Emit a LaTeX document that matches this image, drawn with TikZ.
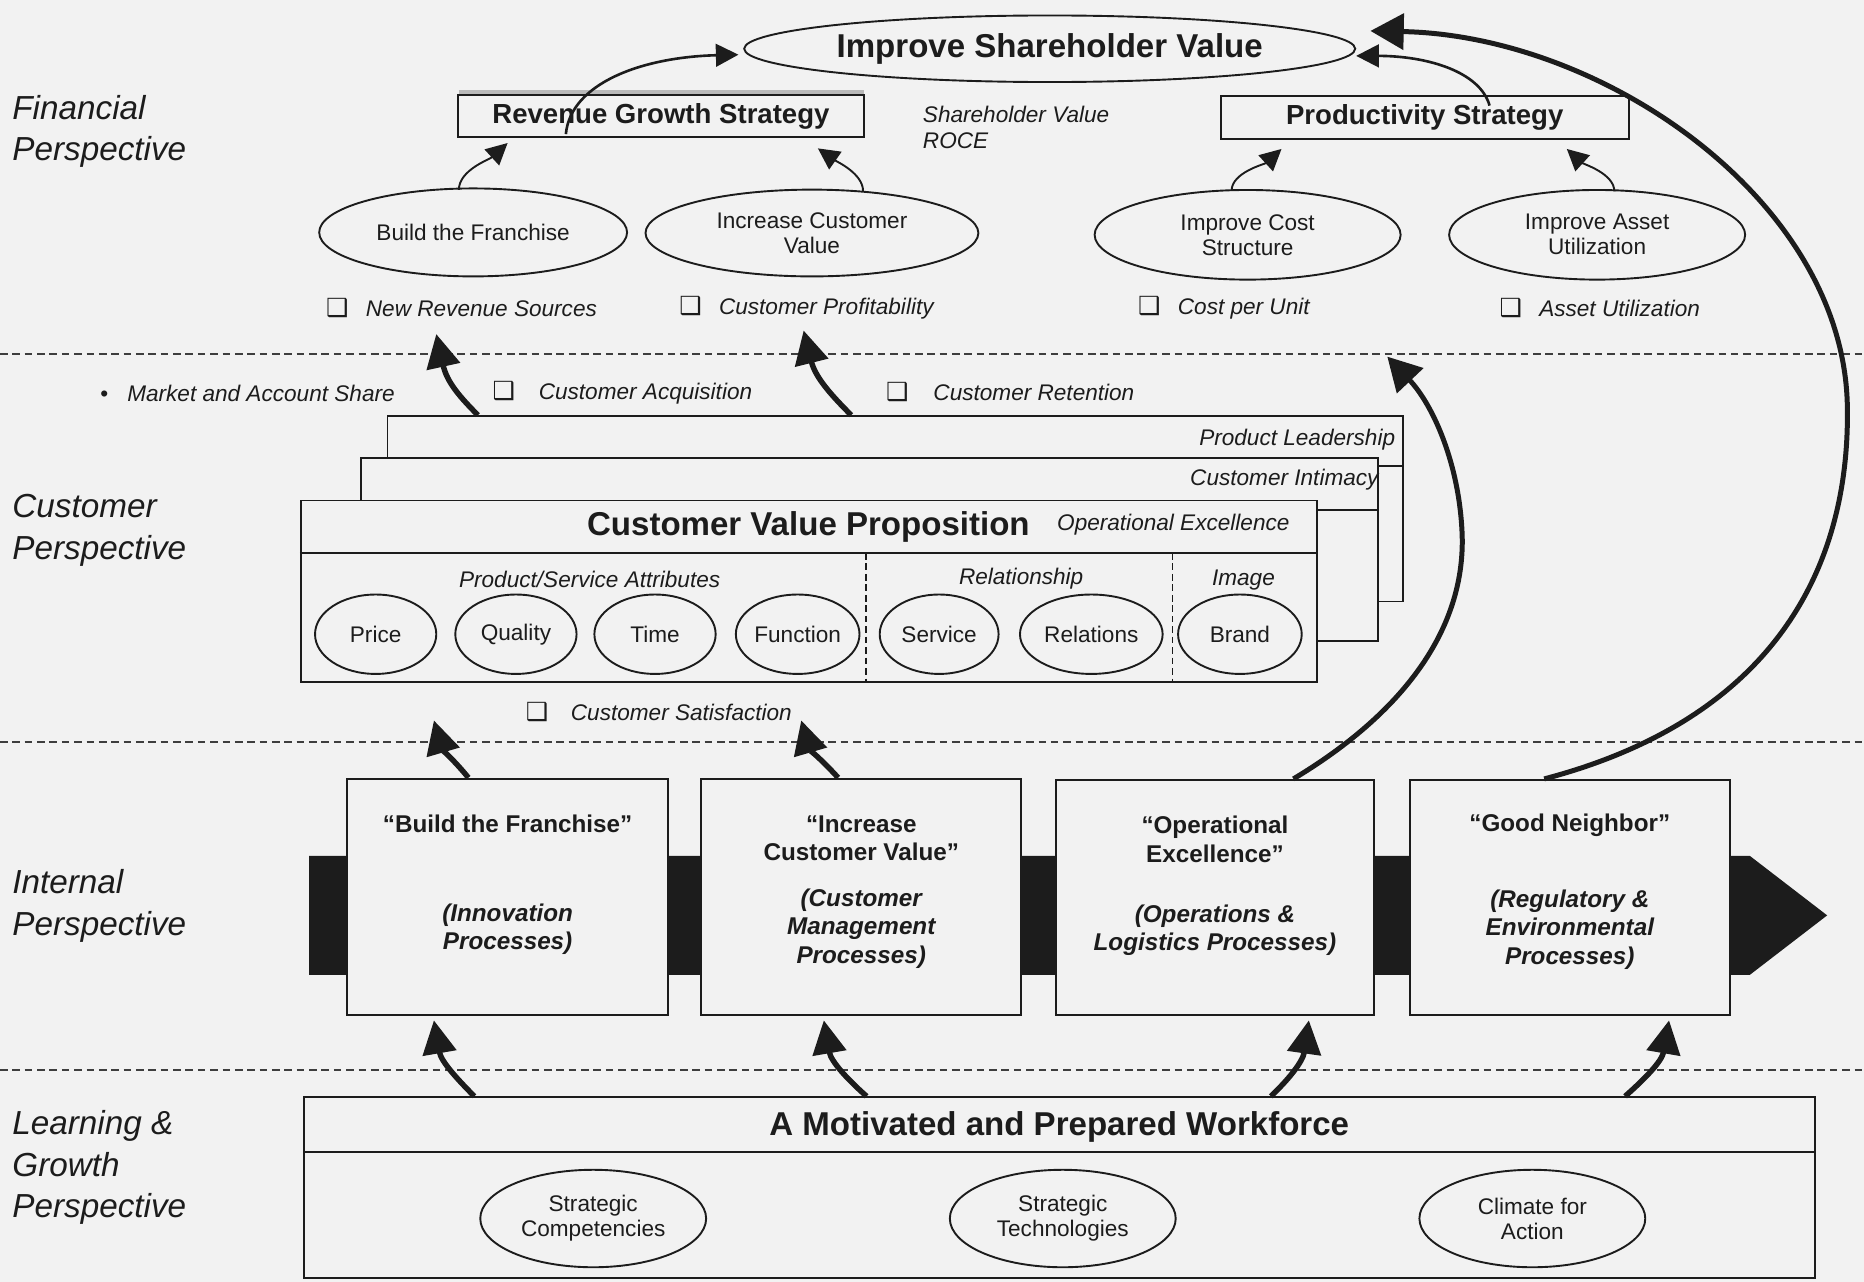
\documentclass[tikz,border=0pt]{standalone}
\usepackage{fontspec}
\setmainfont{Liberation Sans}
\newfontfamily\dvfont{DejaVu Sans}
\usetikzlibrary{arrows.meta,calc,shapes.geometric}
\definecolor{bgc}{HTML}{F2F2F2}
\definecolor{ink}{HTML}{1C1C1C}
\newcommand{\chk}{{\upshape\dvfont\fontsize{10.5}{10}\selectfont ❑}}
\begin{document}
\begin{tikzpicture}[x=0.5pt,y=-0.5pt,
  every node/.style={text=ink},
  ell/.style={ellipse,draw=ink,line width=0.8pt,fill=bgc,inner sep=0pt,align=center,font=\fontsize{9.5}{10.5}\selectfont},
  box/.style={rectangle,draw=ink,line width=0.8pt,fill=bgc,inner sep=0pt},
  persp/.style={anchor=west,align=left,inner sep=0pt,font=\fontsize{14}{17.6}\selectfont\itshape},
  meas/.style={anchor=west,inner sep=0pt,font=\fontsize{9.5}{11}\selectfont\itshape},
  lbl/.style={inner sep=0pt,font=\fontsize{9.5}{11}\selectfont\itshape},
  ttl/.style={inner sep=0pt,align=center,font=\fontsize{10.2}{12}\selectfont\bfseries},
  sub/.style={inner sep=0pt,align=center,font=\fontsize{10.2}{12}\selectfont\bfseries\itshape},
  bigt/.style={inner sep=0pt,font=\fontsize{13.9}{16}\selectfont\bfseries},
  boxt/.style={font=\fontsize{11.6}{13}\selectfont\bfseries},
  sepline/.style={draw=ink!85,line width=0.8pt,dash pattern=on 3.2pt off 2pt},
  vsep/.style={draw=ink,line width=0.7pt,dash pattern=on 2.8pt off 1.6pt},
  farr/.style={draw=ink,line width=0.8pt,-{Triangle[length=9pt,width=9pt]}},
  marr/.style={draw=ink,line width=1.1pt,-{Triangle[length=9.5pt,width=9.5pt]}},
  tarr/.style={draw=ink,line width=2.3pt,-{Triangle[length=14pt,width=14pt]}},
  barr/.style={draw=ink,line width=2.1pt,-{Triangle[length=14pt,width=15pt]}}
]
\useasboundingbox (0,0) rectangle (1568,1078);
\fill[bgc] (0,0) rectangle (1568,1078);

% perspective separators
\draw[sepline] (0,298) -- (1568,298);
\draw[sepline] (0,624) -- (1568,624);
\draw[sepline] (0,900) -- (1568,900);

% perspective labels
\node[persp] (lf) at (10,110.5) {Financial\\Perspective};
\node[persp] (lc) at (10,446) {Customer\\Perspective};
\node[persp] (li) at (10,762) {Internal\\Perspective};
\node[persp] (ll) at (10,982) {Learning \&\\Growth\\Perspective};

% ---------------- Financial ----------------
\node[ell,minimum width=257pt,minimum height=28pt,font=\fontsize{13.9}{16}\selectfont\bfseries] (isv) at (883,41) {Improve Shareholder Value};
\draw[gray!55,line width=2pt] (386,78) -- (727,78);
\node[box,boxt,minimum width=170.5pt,minimum height=17.75pt] (rgs) at (556,97.75) {Revenue Growth Strategy};
\node[box,boxt,minimum width=171.5pt,minimum height=18pt] (ps) at (1198.5,98.8) {Productivity Strategy};
\node[lbl,anchor=west,align=left] (sv) at (776,107) {Shareholder Value\\ROCE};
\node[ell,minimum width=129.5pt,minimum height=37pt] (bf) at (398,195.5) {Build the Franchise};
\node[ell,minimum width=140pt,minimum height=36.5pt] (icv) at (683,196) {Increase Customer\\Value};
\node[ell,minimum width=128.7pt,minimum height=37.7pt] (ics) at (1049.5,197.5) {Improve Cost\\Structure};
\node[ell,minimum width=124.5pt,minimum height=37.7pt] (iau) at (1343.5,197.5) {Improve Asset\\Utilization};

\node[meas] (m1) at (274,259) {\chk\hspace{7.3pt}New Revenue Sources};
\node[meas] (m2) at (571,259) {\chk\hspace{7.3pt}Customer Profitability};
\node[meas] (m3) at (957,259) {\chk\hspace{7.3pt}Cost per Unit};
\node[meas] (m4) at (1261,259) {\chk\hspace{7.3pt}Asset Utilization};

% financial arrows
\draw[farr] ($(bf.north)+(-12,2)$) .. controls (386,143) and (412,134) .. ($(rgs.south)+(-129,4)$);
\draw[farr] ($(icv.north)+(43,2)$) .. controls (726,146) and (704,136) .. ($(rgs.south)+(132,8.5)$);
\draw[farr] ($(ics.north)+(-13.5,1.5)$) .. controls (1036,145) and (1064,138) .. ($(ps.south)+(-120.5,7.7)$);
\draw[farr] ($(iau.north)+(14.5,2)$) .. controls (1358,146) and (1332,138) .. ($(ps.south)+(119.5,7.7)$);
\draw[marr] ($(rgs.south)+(-80,-3.5)$) .. controls (480,70) and (540,48) .. ($(isv.west)+(-4,5)$);
\draw[marr] ($(ps.south)+(54.5,-28.8)$) .. controls (1245,60) and (1200,47) .. ($(isv.east)+(0,6)$);

% ---------------- Customer ----------------
\node[meas] (m5) at (84,331) {{\upshape •}\hspace{8pt}Market and Account Share};
\node[meas] (m6) at (414,330) {\chk\hspace{10pt}Customer Acquisition};
\node[meas] (m7) at (745,330) {\chk\hspace{10.5pt}Customer Retention};
\node[meas] (m8) at (442,599) {\chk\hspace{9.5pt}Customer Satisfaction};

\node[box,minimum width=427pt,minimum height=78pt] (cvpBack) at (753,428) {};
\draw[draw=ink,line width=0.8pt] ($(cvpBack.north east)+(0,43)$) -- ($(cvpBack.north east)+(-21,43)$);
\node[box,minimum width=427.5pt,minimum height=77pt] (cvpMid) at (731.5,462) {};
\draw[draw=ink,line width=0.8pt] ($(cvpMid.north east)+(0,45)$) -- ($(cvpMid.north east)+(-51,45)$);
\node[box,minimum width=427.5pt,minimum height=76.5pt] (cvpFront) at (680.5,497.5) {};
\draw[draw=ink,line width=0.8pt] ($(cvpFront.north west)+(0,45)$) -- ($(cvpFront.north east)+(0,45)$);
\draw[vsep] ($(cvpFront.north west)+(476,45)$) -- ($(cvpFront.south west)+(476,0)$);
\draw[vsep] ($(cvpFront.north west)+(734,45)$) -- ($(cvpFront.south west)+(734,0)$);

\node[lbl,anchor=east] (pl) at (1174,370) {Product Leadership};
\node[lbl,anchor=east] (ci) at (1160,403.5) {Customer Intimacy};
\node[bigt] (cvp) at (680,443) {Customer Value Proposition};
\node[lbl] (oe) at (987,441) {Operational Excellence};
\node[lbl] (psa) at (496,487) {Product/Service Attributes};
\node[lbl] (rel) at (859,487) {Relationship};
\node[lbl] (img) at (1046,488) {Image};

\node[ell,minimum width=51pt,minimum height=33.4pt] (price) at (316,533.5) {Price};
\node[ell,minimum width=51pt,minimum height=33.4pt] (quality) at (434,533.5) {Quality};
\node[ell,minimum width=51pt,minimum height=33.4pt] (time) at (551,533.5) {Time};
\node[ell,minimum width=52pt,minimum height=33.4pt] (func) at (671,533.5) {Function};
\node[ell,minimum width=50pt,minimum height=33.4pt] (serv) at (790,533.5) {Service};
\node[ell,minimum width=60pt,minimum height=33.4pt] (relat) at (918,533.5) {Relations};
\node[ell,minimum width=52pt,minimum height=33.4pt] (brand) at (1043,533.5) {Brand};

\coordinate (c1tip) at (367,281);
\coordinate (c2tip) at (676,278);
\draw[tarr] ($(cvpBack.north)+(-351,0)$) .. controls (388,335) and (376,322) .. (c1tip);
\draw[tarr] ($(cvpBack.north)+(-37,0)$) .. controls (700,333) and (686,318) .. (c2tip);

% ---------------- Internal ----------------
\fill[ink] (260,720) -- (1472,720) -- (1537,770) -- (1472,820) -- (260,820) -- cycle;
\node[box,minimum width=135pt,minimum height=99.5pt] (ib1) at (427,754.5) {};
\node[box,minimum width=134.5pt,minimum height=99.5pt] (ib2) at (724.5,754.5) {};
\node[box,minimum width=134pt,minimum height=99pt] (ib3) at (1022,755) {};
\node[box,minimum width=134.5pt,minimum height=99pt] (ib4) at (1320.5,755) {};

\node[ttl] (t1) at (427,693) {“Build the Franchise”};
\node[sub] (s1) at (427,781.5) {(Innovation\\Processes)};
\node[ttl] (t2) at (724.5,705) {“Increase\\Customer Value”};
\node[sub] (s2) at (724.5,781) {(Customer\\Management\\Processes)};
\node[ttl] (t3) at (1022,706) {“Operational\\Excellence”};
\node[sub] (s3) at (1022,782.5) {(Operations \&\\Logistics Processes)};
\node[ttl] (t4) at (1320.5,694) {“Good Neighbor”};
\node[sub] (s4) at (1320.5,782) {(Regulatory \&\\Environmental\\Processes)};

\coordinate (d1tip) at (365,606);
\coordinate (d2tip) at (674,606);
\draw[tarr] ($(ib1.north)+(-33,0)$) .. controls (385,643) and (372,630) .. (d1tip);
\draw[tarr] ($(ib2.north)+(-19.5,0)$) .. controls (695,643) and (681,630) .. (d2tip);

% big arcs
\coordinate (opTip) at (1167,300);
\draw[barr] ($(ib3.north)+(66,0)$) .. controls (1180,600) and (1232,530) .. (1230,451)
   .. controls (1228,390) and (1205,340) .. (opTip);
\draw[barr] ($(ib4.north)+(-21.5,0)$) .. controls (1490,605) and (1556,480) .. (1554,343)
   .. controls (1552,170) and (1350,30) .. ($(isv.east)+(12,-15)$);

% ---------------- Learning & Growth ----------------
\node[box,minimum width=635.5pt,minimum height=76pt] (wf) at (891.5,999) {};
\draw[draw=ink,line width=0.8pt] ($(wf.north west)+(0,47)$) -- ($(wf.north east)+(0,47)$);
\node[bigt] (wft) at (891,948) {A Motivated and Prepared Workforce};
\node[ell,minimum width=95pt,minimum height=41pt] (sc) at (499,1025) {Strategic\\Competencies};
\node[ell,minimum width=95pt,minimum height=41pt] (st) at (894,1025) {Strategic\\Technologies};
\node[ell,minimum width=95pt,minimum height=41pt] (ca) at (1289,1025) {Climate for\\Action};

\draw[tarr] ($(wf.north)+(-492.5,0)$) .. controls (385,908) and (371,893) .. ($(ib1.south)+(-62,3.5)$);
\draw[tarr] ($(wf.north)+(-162.5,0)$) .. controls (713,908) and (699,893) .. ($(ib2.south)+(-31.5,3.5)$);
\draw[tarr] ($(wf.north)+(177.5,0)$) .. controls (1084,908) and (1096,893) .. ($(ib3.south)+(79,3.5)$);
\draw[tarr] ($(wf.north)+(475.5,0)$) .. controls (1383,908) and (1398,893) .. ($(ib4.south)+(83.5,3.5)$);
\end{tikzpicture}
\end{document}
